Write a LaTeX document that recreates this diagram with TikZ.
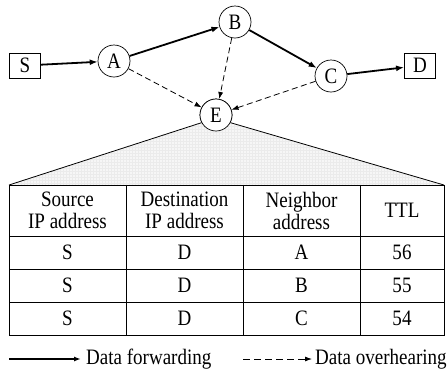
\documentclass[tikz,border=0pt]{standalone}
\usepackage{fontspec}
\setmainfont[FakeStretch=0.865]{Liberation Serif}
\usetikzlibrary{arrows.meta}
\tikzset{
  rnode/.style={circle,draw,line width=0.7pt,fill=white,minimum size=32pt,inner sep=0pt},
  bnode/.style={rectangle,draw,line width=0.8pt,fill=white,minimum width=31pt,minimum height=25pt,inner sep=0pt},
  fwd/.style={line width=1.8pt,-{Latex[length=8pt,width=6pt]}},
  ovh/.style={line width=0.8pt,dash pattern=on 6pt off 3.5pt,-{Latex[length=7pt,width=5pt]}},
  tline/.style={line width=1pt},
  cell/.style={inner sep=0pt,align=center},
}
\begin{document}
\begin{tikzpicture}[x=1pt,y=-1pt,font=\fontsize{22}{22}\selectfont]
\useasboundingbox (0,0) rectangle (447,381);
% nodes
\node[bnode] (S) at (25,65.5) {S};
\node[rnode] (A) at (114,61) {A};
\node[rnode] (B) at (235,22) {B};
\node[rnode] (C) at (331,76) {C};
\node[bnode] (D) at (420,65.5) {D};
\coordinate (TL) at (9,185);
\coordinate (TR) at (444,185);
\node[rnode] (E) at (216,115) {};
% triangle
\begin{scope}
\clip (TL) -- (E.-150) -- (E.-30) -- (TR) -- cycle;
\fill[gray!7] (0,100) rectangle (447,186);
\draw[gray!16,line width=0.3pt,step=3pt] (0,100) grid (447,186);
\end{scope}
\draw[line width=0.8pt] (TL) -- (E.-152);
\draw[line width=0.8pt] (TR) -- (E.-28);
\node[rnode] (E2) at (216,115) {E};
% arrows
\draw[fwd] (S) -- (A);
\draw[fwd] (A) -- (B);
\draw[fwd] (B) -- (C);
\draw[fwd] (C) -- (D);
\draw[ovh] (A) -- (E2);
\draw[ovh] (B) -- (E2);
\draw[ovh] (C) -- (E2);
% table
\draw[tline] (9,185) rectangle (444,335);
\draw[tline] (9,236) -- (444,236);
\draw[tline] (9,269) -- (444,269);
\draw[tline] (9,302) -- (444,302);
\draw[tline] (126,185) -- (126,335);
\draw[tline] (243,185) -- (243,335);
\draw[tline] (360,185) -- (360,335);
\node[cell] (h1) at (67.5,210.5) {Source\\IP address};
\node[cell] (h2) at (184.5,210.5) {Destination\\IP address};
\node[cell] (h3) at (301.5,210.5) {Neighbor\\address};
\node[cell] (h4) at (402,210.5) {TTL};
\node[cell] (r1a) at (67.5,252.5) {S};
\node[cell] (r1b) at (184.5,252.5) {D};
\node[cell] (r1c) at (301.5,252.5) {A};
\node[cell] (r1d) at (402,252.5) {56};
\node[cell] (r2a) at (67.5,285.5) {S};
\node[cell] (r2b) at (184.5,285.5) {D};
\node[cell] (r2c) at (301.5,285.5) {B};
\node[cell] (r2d) at (402,285.5) {55};
\node[cell] (r3a) at (67.5,318.5) {S};
\node[cell] (r3b) at (184.5,318.5) {D};
\node[cell] (r3c) at (301.5,318.5) {C};
\node[cell] (r3d) at (402,318.5) {54};
% legend
\coordinate (l1s) at (9,359);
\coordinate (l1e) at (81,359);
\draw[line width=1.6pt,-{Latex[length=7pt,width=5pt]}] (l1s) -- (l1e);
\node[anchor=west,inner sep=0pt] (lt1) at (86,359) {Data forwarding};
\coordinate (l2s) at (243,359);
\coordinate (l2e) at (312,359);
\draw[line width=0.8pt,dash pattern=on 7pt off 4pt,-{Latex[length=7pt,width=5pt]}] (l2s) -- (l2e);
\node[anchor=west,inner sep=0pt] (lt2) at (315,359) {Data overhearing};
\end{tikzpicture}
\end{document}
